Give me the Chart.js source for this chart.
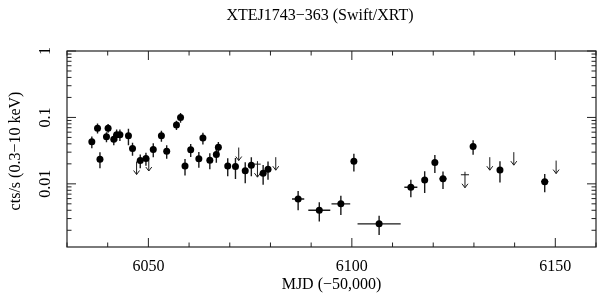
<!DOCTYPE html>
<html>
<head>
<meta charset="utf-8">
<script src="https://cdn.jsdelivr.net/npm/chart.js@4"></script>
<style>
  body { margin: 0; background: #fff; }
  canvas { display: block; }
</style>
</head>
<body>
<canvas id="lc-chart" width="600" height="299"></canvas>
<script>
// detections: MJD-50000, count rate (0.3-10 keV), errors
const mjd = [6036.1, 6037.5, 6038.1, 6039.7, 6040.1, 6041.5, 6042.2, 6043.0, 6045.1, 6046.1,
  6048.0, 6049.4, 6051.2, 6053.2, 6054.5, 6056.9, 6057.9, 6059.0, 6060.4, 6062.4,
  6063.4, 6065.1, 6066.7, 6067.2, 6069.5, 6071.4, 6073.8, 6075.3, 6078.2, 6079.4,
  6086.8, 6092.0, 6097.3, 6100.5, 6106.7, 6114.5, 6117.9, 6120.4, 6122.4, 6129.8,
  6136.4, 6147.4];
const rate = [0.043, 0.069, 0.0235, 0.051, 0.069, 0.047, 0.055, 0.055, 0.053, 0.034,
  0.0224, 0.024, 0.033, 0.053, 0.031, 0.077, 0.100, 0.0185, 0.0325, 0.0238,
  0.049, 0.0227, 0.0276, 0.0356, 0.0186, 0.0182, 0.0157, 0.0191, 0.0145, 0.0166,
  0.0059, 0.0040, 0.0050, 0.0219, 0.0025, 0.0089, 0.0114, 0.0209, 0.0119, 0.0364,
  0.0162, 0.0108];
const rateErr = [0.0086, 0.0117, 0.0063, 0.0087, 0.0104, 0.0089, 0.011, 0.011, 0.0148, 0.0075,
  0.0052, 0.0053, 0.0079, 0.0101, 0.0071, 0.0123, 0.017, 0.0052, 0.0072, 0.0064,
  0.0098, 0.0061, 0.0069, 0.0071, 0.0056, 0.0064, 0.0055, 0.0061, 0.0048, 0.0051,
  0.0019, 0.0013, 0.0016, 0.0066, 0.0008, 0.0026, 0.0041, 0.0063, 0.0035, 0.0091,
  0.0057, 0.0033];
const mjdErr = [0.2, 0.2, 0.2, 0.2, 0.2, 0.2, 0.2, 0.2, 0.2, 0.2,
  0.2, 0.2, 0.2, 0.2, 0.2, 0.2, 0.2, 0.2, 0.2, 0.2,
  0.2, 0.2, 0.2, 0.2, 0.2, 0.2, 0.2, 0.2, 0.2, 0.2,
  1.5, 2.7, 2.3, 0.2, 5.3, 1.6, 0.2, 0.2, 0.9, 0.2,
  0.2, 0.9];

// upper limits
const ulMjd = [6047.1, 6050.1, 6072.2, 6076.8, 6081.3, 6127.8, 6133.9, 6139.8, 6150.2];
const ulRate = [0.0217, 0.0245, 0.0352, 0.0198, 0.0252, 0.0137, 0.0252, 0.030, 0.0224];
const ulMjdErr = [0, 0, 0, 0.8, 0, 1.0, 0, 0, 0];

// axes
const xTickLabels = [6050, 6100, 6150];
const yTickLabels = [1, 0.1, 0.01];

const serif = '"Liberation Serif", "DejaVu Serif", serif';

const plotDecor = {
  id: 'plotDecor',
  beforeDatasetsDraw(chart) {
    const c = chart.ctx, xs = chart.scales.x, ys = chart.scales.y;
    c.save();
    c.strokeStyle = '#1a1a1a';
    c.lineWidth = 1.4;
    for (let i = 0; i < mjd.length; i++) {
      const px = xs.getPixelForValue(mjd[i]);
      const py = ys.getPixelForValue(rate[i]);
      c.beginPath();
      c.moveTo(px, ys.getPixelForValue(rate[i] + rateErr[i]));
      c.lineTo(px, ys.getPixelForValue(rate[i] - rateErr[i]));
      c.moveTo(xs.getPixelForValue(mjd[i] - mjdErr[i]), py);
      c.lineTo(xs.getPixelForValue(mjd[i] + mjdErr[i]), py);
      c.stroke();
    }
    // upper limit arrows
    c.lineWidth = 1;
    for (let i = 0; i < ulMjd.length; i++) {
      const px = xs.getPixelForValue(ulMjd[i]);
      let py = ys.getPixelForValue(ulRate[i]);
      let top = py;
      if (ulMjdErr[i] > 0) {
        c.beginPath();
        c.moveTo(xs.getPixelForValue(ulMjd[i] - ulMjdErr[i]), py);
        c.lineTo(xs.getPixelForValue(ulMjd[i] + ulMjdErr[i]), py);
        c.stroke();
        top = py - 3;
      }
      const tip = py + 13;
      c.beginPath();
      c.moveTo(px, top);
      c.lineTo(px, tip);
      c.moveTo(px - 3, tip - 4);
      c.lineTo(px, tip);
      c.lineTo(px + 3, tip - 4);
      c.stroke();
    }
    c.restore();
  },
  afterDraw(chart) {
    const c = chart.ctx, xs = chart.scales.x, ys = chart.scales.y;
    const a = chart.chartArea;
    c.save();
    c.strokeStyle = '#222';
    c.lineWidth = 1.2;
    c.strokeRect(a.left, a.top, a.right - a.left, a.bottom - a.top);

    c.lineWidth = 1;
    c.beginPath();
    // x ticks, major every 50 and minor every 10
    for (let v = 6030; v <= 6160; v += 10) {
      const px = xs.getPixelForValue(v);
      const len = xTickLabels.includes(v) ? 9 : 4.5;
      c.moveTo(px, a.bottom); c.lineTo(px, a.bottom - len);
      c.moveTo(px, a.top); c.lineTo(px, a.top + len);
    }
    // y ticks, decades and log minors
    for (let e = -3; e <= 0; e++) {
      for (let m = 1; m <= 9; m++) {
        const v = m * Math.pow(10, e);
        if (v < ys.min || v > ys.max * 1.0001) continue;
        const py = ys.getPixelForValue(v);
        const len = m === 1 ? 9 : 4.5;
        c.moveTo(a.left, py); c.lineTo(a.left + len, py);
        c.moveTo(a.right, py); c.lineTo(a.right - len, py);
      }
    }
    c.stroke();

    c.fillStyle = '#000';
    c.font = '16px ' + serif;
    c.textAlign = 'center';
    c.textBaseline = 'middle';
    c.fillText('XTEJ1743\u2212363 (Swift/XRT)', 320, 16);

    // rotated y tick labels and y title
    yTickLabels.forEach(v => {
      c.save();
      c.translate(46, ys.getPixelForValue(v));
      c.rotate(-Math.PI / 2);
      c.fillText(String(v), 0, 0);
      c.restore();
    });
    c.save();
    c.translate(16, 151);
    c.rotate(-Math.PI / 2);
    c.fillText('cts/s (0.3\u221210 keV)', 0, 0);
    c.restore();
    c.restore();
  }
};

new Chart(document.getElementById('lc-chart'), {
  type: 'scatter',
  data: {
    datasets: [{
      label: 'detections',
      data: mjd.map((x, i) => ({ x: x, y: rate[i] })),
      backgroundColor: '#000',
      borderColor: '#000',
      pointRadius: 3.5,
      borderWidth: 0
    }, {
      label: 'upper limits',
      data: ulMjd.map((x, i) => ({ x: x, y: ulRate[i] })),
      pointRadius: 0
    }]
  },
  options: {
    responsive: false,
    animation: false,
    layout: { padding: { top: 51, right: 4, left: 0, bottom: 0 } },
    scales: {
      x: {
        type: 'linear',
        min: 6030,
        max: 6160,
        afterBuildTicks: s => { s.ticks = xTickLabels.map(v => ({ value: v })); },
        afterFit: s => { s.height = 52; },
        ticks: {
          color: '#000',
          font: { family: serif, size: 16 },
          padding: 10,
          maxRotation: 0,
          callback: v => String(v)
        },
        grid: { display: false, drawTicks: false },
        border: { display: false },
        title: {
          display: true,
          text: 'MJD (\u221250,000)',
          color: '#000',
          font: { family: serif, size: 16 },
          padding: { top: 0, bottom: 5 }
        }
      },
      y: {
        type: 'logarithmic',
        min: 0.00112,
        max: 1,
        afterFit: s => { s.width = 67; },
        ticks: { display: false },
        grid: { display: false, drawTicks: false },
        border: { display: false }
      }
    },
    plugins: {
      legend: { display: false },
      tooltip: { enabled: false }
    }
  },
  plugins: [plotDecor]
});
</script>
</body>
</html>
